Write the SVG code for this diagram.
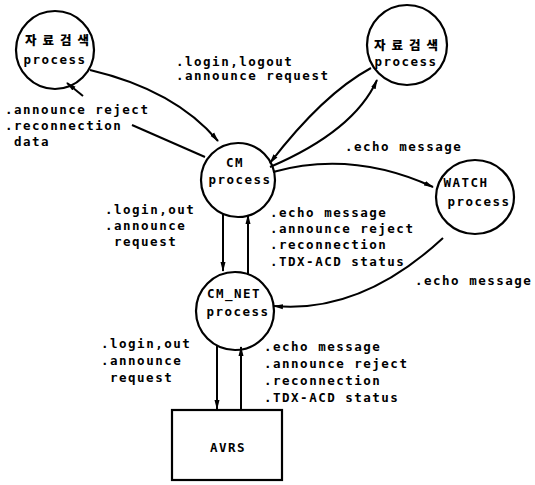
<svg xmlns="http://www.w3.org/2000/svg" width="535" height="485" viewBox="0 0 535 485">
<style>
.n{fill:none;stroke:#000;stroke-width:2.2}
.t{font-family:"DejaVu Sans Mono","Liberation Mono",monospace;font-weight:bold;font-size:12.5px;letter-spacing:1.5px;fill:#000}
.k{font-family:"Noto Sans CJK KR","Noto Sans",sans-serif;font-weight:900;font-size:12.5px;letter-spacing:6px;fill:#000}
.c{fill:none;stroke:#000;stroke-width:2}
.m{text-anchor:middle}
</style>
<defs>
<marker id="a" markerUnits="userSpaceOnUse" markerWidth="10" markerHeight="6" refX="9" refY="3" orient="auto">
<path d="M0,0.5 L10,3 L0,5.5 z" fill="#000"/>
</marker>
</defs>
<rect width="535" height="485" fill="#fff"/>
<g id="connectors">
<path class="c" d="M90,70 Q175,90 218,141" marker-end="url(#a)"/>
<path class="c" d="M205,157 L132,125"/>
<path class="c" d="M83,96 L67,83" marker-end="url(#a)"/>
<path class="c" d="M371,68 Q323,94 270,163" marker-end="url(#a)"/>
<path class="c" d="M270,167 Q354,131 377,80" marker-end="url(#a)"/>
<path class="c" d="M273,172 Q352,150 433,187" marker-end="url(#a)"/>
<path class="c" d="M443,238 Q361,314 274,306" marker-end="url(#a)"/>
<path class="c" d="M223,214 L223,271" marker-end="url(#a)"/>
<path class="c" d="M248,274 L248,215" marker-end="url(#a)"/>
<path class="c" d="M217,346 L217,409" marker-end="url(#a)"/>
<path class="c" d="M241,410 L241,347" marker-end="url(#a)"/>
</g>
<g id="search1">
<circle class="n" cx="55" cy="50" r="39"/>
<text class="k m" x="60" y="45">자료검색</text>
<text class="t m" x="55" y="64">process</text>
</g>
<g id="search2">
<circle class="n" cx="407" cy="45" r="40"/>
<text class="k m" x="409" y="50">자료검색</text>
<text class="t m" x="406" y="66">process</text>
</g>
<g id="cm">
<circle class="n" cx="238" cy="180" r="37"/>
<text class="t m" x="235" y="167">CM</text>
<text class="t m" x="240" y="184">process</text>
</g>
<g id="watch">
<ellipse class="n" cx="475" cy="197" rx="39" ry="37"/>
<text class="t m" x="466" y="187">WATCH</text>
<text class="t m" x="479" y="206">process</text>
</g>
<g id="cmnet">
<circle class="n" cx="235" cy="311" r="39"/>
<text class="t m" x="234" y="298">CM_NET</text>
<text class="t m" x="238" y="316">process</text>
</g>
<g id="avrs">
<rect class="n" x="172" y="410" width="110" height="70"/>
<text class="t m" x="228" y="452">AVRS</text>
</g>
<g id="labels">
<text class="t" x="176" y="66">.login,logout</text>
<text class="t" x="176" y="80">.announce request</text>
<text class="t" x="5" y="114">.announce reject</text>
<text class="t" x="5" y="130">.reconnection</text>
<text class="t" x="14" y="146">data</text>
<text class="t" x="345" y="151">.echo message</text>
<text class="t" x="105" y="214">.login,out</text>
<text class="t" x="105" y="230">.announce</text>
<text class="t" x="114" y="246">request</text>
<text class="t" x="270" y="217">.echo message</text>
<text class="t" x="270" y="233">.announce reject</text>
<text class="t" x="270" y="249">.reconnection</text>
<text class="t" x="270" y="266">.TDX-ACD status</text>
<text class="t" x="415" y="285">.echo message</text>
<text class="t" x="101" y="348">.login,out</text>
<text class="t" x="101" y="365">.announce</text>
<text class="t" x="110" y="382">request</text>
<text class="t" x="264" y="351">.echo message</text>
<text class="t" x="264" y="368">.announce reject</text>
<text class="t" x="264" y="385">.reconnection</text>
<text class="t" x="264" y="402">.TDX-ACD status</text>
</g>
</svg>
